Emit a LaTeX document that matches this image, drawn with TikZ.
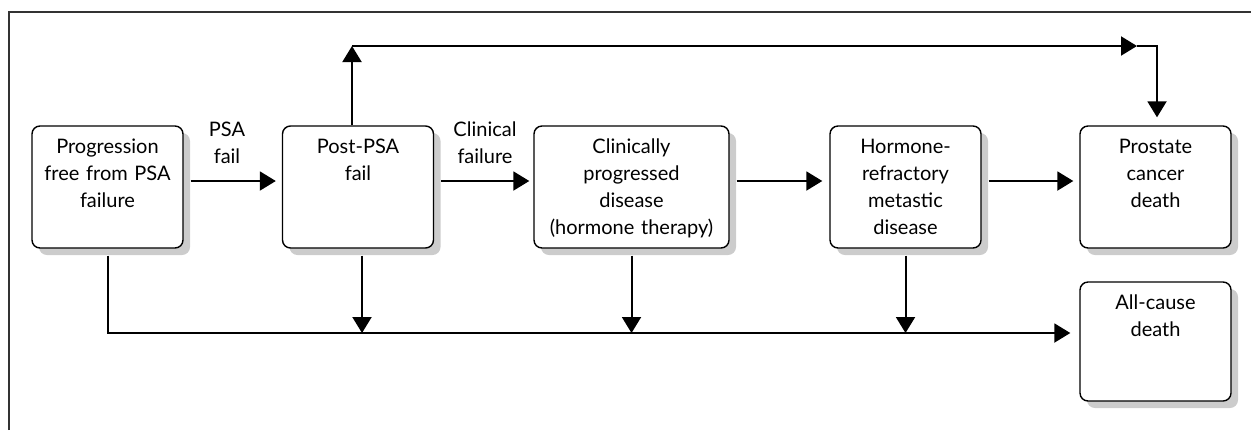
\documentclass[tikz,border=0pt]{standalone}
\usepackage{fontspec}
\setmainfont{Lato}
\usetikzlibrary{arrows.meta}
\begin{document}
\begin{tikzpicture}[x=0.5pt,y=-0.5pt,
  state/.style={draw,line width=0.7pt,rounded corners=4pt,fill=white,
    minimum width=75.5pt,minimum height=61pt,inner sep=0pt},
  statetext/.style={anchor=north,align=center,inner sep=0pt,yshift=-6.75pt,
    text width=95pt,font=\fontsize{10}{13.5}\selectfont},
  lbl/.style={align=center,inner sep=0pt,text width=50pt,font=\fontsize{10}{13.5}\selectfont},
  arr/.style={line width=1pt,-{Triangle[length=8pt,width=9.5pt]}}]
\useasboundingbox (0,0) rectangle (1251,430);
\draw[line width=0.6pt,black!80] (9,430) -- (9,12) -- (1251,12);
% shadows (centre x / centre y / width / height)
\foreach \cx/\cy/\w/\h in {107.5/187/151/122,358/187/151/122,631.5/187/195/122,
    905.5/187/151/122,1155.5/187/151/122,1155.5/341.5/151/119}
  \fill[black!20,rounded corners=4pt] (\cx-\w/2+7,\cy-\h/2+7) rectangle ++(\w,\h);
% states
\node[state,label={[statetext]north:{Progression\\free from PSA\\failure}}] (pfree) at (107.5,187) {};
\node[state,label={[statetext]north:{Post-PSA\\fail}}] (postpsa) at (358,187) {};
\node[state,minimum width=97.5pt,label={[statetext]north:{Clinically\\progressed\\disease\\(hormone therapy)}}] (clinprog) at (631.5,187) {};
\node[state,label={[statetext]north:{Hormone-\\refractory\\metastic\\disease}}] (hrmd) at (905.5,187) {};
\node[state,label={[statetext]north:{Prostate\\cancer\\death}}] (pcdeath) at (1155.5,187) {};
\node[state,minimum height=59.5pt,label={[statetext]north:{All-cause\\death}}] (acdeath) at (1155.5,341.5) {};
% transition labels
\node[lbl] (psafail) at (227,143) {PSA\\fail};
\node[lbl] (clinfail) at (485,143) {Clinical\\failure};
% main sequence
\draw[arr,shorten <=3.5pt,shorten >=3pt] ([yshift=3pt]pfree.east) -- ([yshift=3pt]postpsa.west);
\draw[arr,shorten <=3.5pt,shorten >=2pt] ([yshift=3pt]postpsa.east) -- ([yshift=3pt]clinprog.west);
\draw[arr,shorten <=3.5pt,shorten >=3.5pt] ([yshift=3pt]clinprog.east) -- ([yshift=3pt]hrmd.west);
\draw[arr,shorten <=3.5pt,shorten >=3pt] ([yshift=3pt]hrmd.east) -- ([yshift=3pt]pcdeath.west);
% direct route to prostate cancer death
\coordinate (up) at (352,46);
\coordinate (corner) at (1157,46);
\draw[arr] ([xshift=-3pt]postpsa.north) -- (up);
\draw[arr] (up) -- ([xshift=-10pt]corner);
\draw[arr,shorten >=4pt] ([xshift=-10pt]corner) -- (corner) -- (corner |- pcdeath.north);
% other-cause death
\coordinate (bus) at (107.5,333);
\draw[arr,shorten <=3.5pt,shorten >=4.5pt] (pfree.south) -- (bus) -- (bus -| acdeath.west);
\foreach \s/\dx in {postpsa/2pt,clinprog/0pt,hrmd/0pt}{
  \coordinate (d) at ([xshift=\dx]\s.south);
  \draw[arr,shorten <=3.5pt] (d) -- (d |- bus);
}
\end{tikzpicture}
\end{document}
